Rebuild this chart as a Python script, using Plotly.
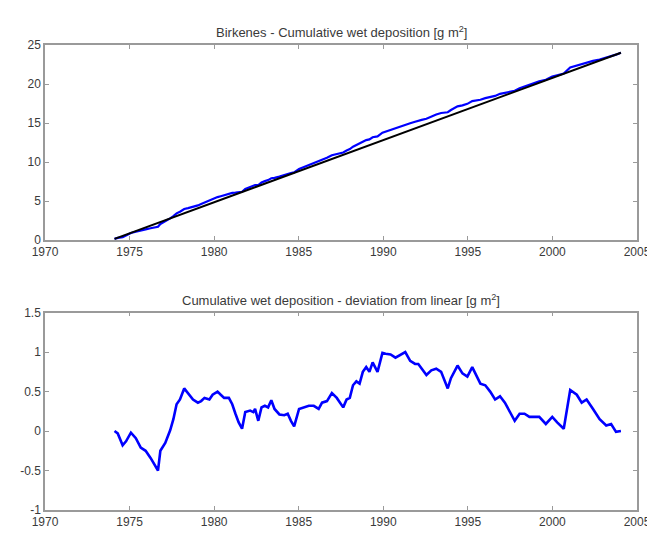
import plotly.graph_objects as go

# Deviation from linear trend (g m^-2)
years = [1974.11, 1974.30, 1974.59, 1974.79, 1975.08, 1975.37, 1975.66, 1975.95, 1976.24, 1976.53,
         1976.68, 1976.82, 1977.11, 1977.40, 1977.59, 1977.78, 1977.98, 1978.23, 1978.46, 1978.75,
         1979.04, 1979.23, 1979.43, 1979.72, 1979.91, 1980.20, 1980.39, 1980.59, 1980.87, 1981.07,
         1981.26, 1981.45, 1981.65, 1981.84, 1982.13, 1982.32, 1982.42, 1982.61, 1982.80, 1983.00,
         1983.19, 1983.38, 1983.57, 1983.86, 1984.15, 1984.35, 1984.54, 1984.73, 1985.02, 1985.31,
         1985.60, 1985.89, 1986.18, 1986.38, 1986.67, 1986.96, 1987.25, 1987.63, 1987.83, 1988.02,
         1988.21, 1988.41, 1988.60, 1988.79, 1988.99, 1989.18, 1989.37, 1989.66, 1989.95, 1990.14,
         1990.43, 1990.72, 1991.01, 1991.30, 1991.59, 1991.88, 1992.07, 1992.27, 1992.55, 1992.84,
         1993.13, 1993.42, 1993.81, 1994.00, 1994.39, 1994.68, 1994.97, 1995.26, 1995.55, 1995.74,
         1996.03, 1996.32, 1996.61, 1996.90, 1997.19, 1997.48, 1997.77, 1998.06, 1998.35, 1998.64,
         1998.93, 1999.22, 1999.61, 1999.99, 2000.28, 2000.67, 2001.05, 2001.44, 2001.73, 2002.02,
         2002.40, 2002.79, 2003.18, 2003.47, 2003.76, 2004.05]
deviation = [0.00, -0.03, -0.18, -0.13, -0.02, -0.09, -0.21, -0.25, -0.34, -0.44,
             -0.50, -0.25, -0.15, 0.01, 0.15, 0.34, 0.40, 0.54, 0.48, 0.40,
             0.36, 0.38, 0.42, 0.40, 0.46, 0.50, 0.46, 0.42, 0.42, 0.34,
             0.22, 0.11, 0.03, 0.24, 0.26, 0.24, 0.28, 0.13, 0.30, 0.32,
             0.30, 0.39, 0.28, 0.21, 0.20, 0.22, 0.13, 0.06, 0.28, 0.30,
             0.32, 0.32, 0.28, 0.36, 0.38, 0.48, 0.42, 0.30, 0.40, 0.42,
             0.58, 0.63, 0.60, 0.75, 0.81, 0.75, 0.87, 0.75, 0.99, 0.98,
             0.97, 0.93, 0.97, 1.00, 0.89, 0.85, 0.85, 0.79, 0.71, 0.77,
             0.79, 0.75, 0.54, 0.67, 0.83, 0.73, 0.69, 0.81, 0.69, 0.60,
             0.58, 0.50, 0.40, 0.44, 0.36, 0.24, 0.13, 0.22, 0.22, 0.18,
             0.18, 0.18, 0.09, 0.18, 0.11, 0.03, 0.52, 0.46, 0.36, 0.40,
             0.28, 0.15, 0.07, 0.09, -0.01, 0.00]

# Linear trend end points (g m^-2)
trend_years = [1974.11, 2004.05]
trend_values = [0.15, 24.0]

x_ticks = [1970, 1975, 1980, 1985, 1990, 1995, 2000, 2005]
x_tick_labels = ["1970", "1975", "1980", "1985", "1990", "1995", "2000", "2005"]
y1_ticks = [0, 5, 10, 15, 20, 25]
y1_tick_labels = ["0", "5", "10", "15", "20", "25"]
y2_ticks = [-1, -0.5, 0, 0.5, 1, 1.5]
y2_tick_labels = ["-1", "-0.5", "0", "0.5", "1", "1.5"]

title_top = "Birkenes - Cumulative wet deposition [g m<sup>2</sup>]"
title_bottom = "Cumulative wet deposition - deviation from linear [g m<sup>2</sup>]"

# cumulative = linear trend + deviation
slope = (trend_values[1] - trend_values[0]) / (trend_years[1] - trend_years[0])
cumulative = [trend_values[0] + slope * (y - trend_years[0]) + d for y, d in zip(years, deviation)]

FONT = "Liberation Sans, Arial, sans-serif"

fig = go.Figure()
fig.add_trace(go.Scatter(x=years, y=cumulative, mode="lines",
                         line=dict(color="#0000ff", width=2.2), xaxis="x", yaxis="y",
                         showlegend=False, hoverinfo="skip"))
fig.add_trace(go.Scatter(x=trend_years, y=trend_values, mode="lines",
                         line=dict(color="#000000", width=2), xaxis="x", yaxis="y",
                         showlegend=False, hoverinfo="skip"))
fig.add_trace(go.Scatter(x=years, y=deviation, mode="lines",
                         line=dict(color="#0000ff", width=2.6), xaxis="x2", yaxis="y2",
                         showlegend=False, hoverinfo="skip"))

axis_common = dict(showline=True, linecolor="#9a9a9a", linewidth=1.5, mirror="ticks",
                   ticks="inside", ticklen=4, tickcolor="#9a9a9a", tickwidth=1,
                   showgrid=False, zeroline=False,
                   tickfont=dict(family=FONT, size=12, color="#3a3a3a"))

fig.update_layout(
    width=655, height=533,
    margin=dict(l=34, r=17, t=37, b=16),
    paper_bgcolor="white", plot_bgcolor="white",
    xaxis=dict(domain=[0, 1], anchor="y", range=[1970, 2005], tickvals=x_ticks,
               ticktext=x_tick_labels, **axis_common),
    yaxis=dict(domain=[0.5806, 1.0], anchor="x", range=[0, 25], tickvals=y1_ticks,
               ticktext=y1_tick_labels, **axis_common),
    xaxis2=dict(domain=[0, 1], anchor="y2", range=[1970, 2005], tickvals=x_ticks,
                ticktext=x_tick_labels, **axis_common),
    yaxis2=dict(domain=[0.0, 0.4244], anchor="x2", range=[-1, 1.5], tickvals=y2_ticks,
                ticktext=y2_tick_labels, **axis_common),
    annotations=[
        dict(text=title_top, xref="paper", yref="paper", x=0.5, y=1.029,
             xanchor="center", yanchor="middle", showarrow=False,
             font=dict(family=FONT, size=13, color="#3a3a3a")),
        dict(text=title_bottom, xref="paper", yref="paper", x=0.5, y=0.452,
             xanchor="center", yanchor="middle", showarrow=False,
             font=dict(family=FONT, size=13, color="#3a3a3a")),
    ],
)

fig.write_html("out.html")
